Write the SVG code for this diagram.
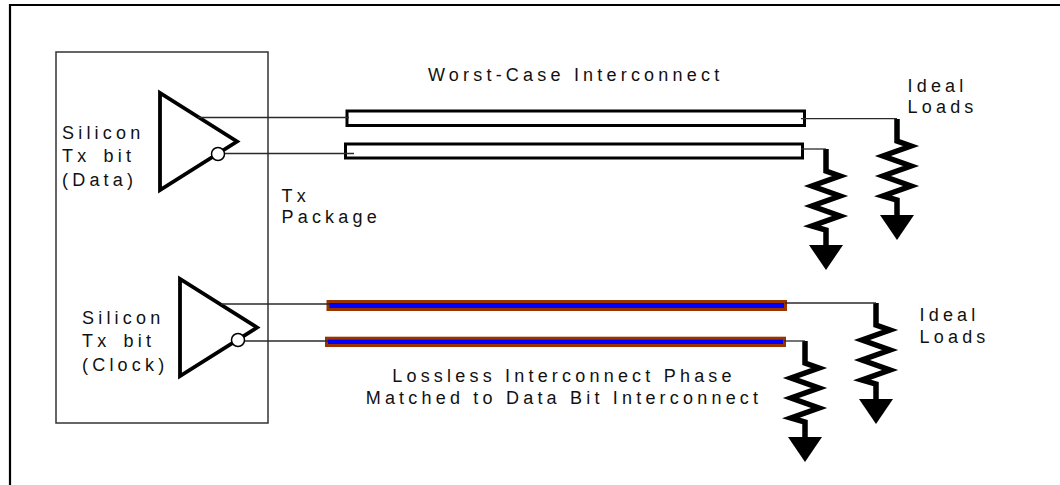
<svg xmlns="http://www.w3.org/2000/svg" width="1060" height="485" viewBox="0 0 1060 485">
<style>
  .lbl { font-family: "Liberation Sans", Arial, sans-serif; font-size: 18px; letter-spacing: 4.2px; fill: #111; }
  .wire { fill: none; stroke: #2a2a2a; stroke-width: 1.3; }
  .frame { fill: none; stroke: #000; stroke-width: 2.2; }
  .pkg { fill: none; stroke: #333; stroke-width: 1.5; }
  .drv { fill: #fff; stroke: #000; stroke-width: 3.8; stroke-linejoin: miter; }
  .bub { fill: #fff; stroke: #000; stroke-width: 1.5; }
  .tl { fill: #fff; stroke: #000; stroke-width: 3; }
  .tlc { fill: #0000ff; stroke: #993300; stroke-width: 3; }
  .res { fill: none; stroke: #000; stroke-width: 5.5; stroke-linejoin: miter; stroke-miterlimit: 10; }
  .gnd { fill: #000; stroke: none; }
</style>
<defs>
  <g id="load">
    <path class="res" d="M0,0 V22 L14,27 L-14,37 L14,47 L-14,57 L14,67 L-14,77 L0,81 V97"/>
    <path class="gnd" d="M-17,96 H17 L0,121 Z"/>
  </g>
</defs>
<rect x="0" y="0" width="1060" height="485" fill="#fff"/>
<path class="frame" d="M10,490 V5 H1065"/>

<g id="tx-package">
  <rect class="pkg" x="56" y="52" width="212" height="371"/>
  <text class="lbl" x="281.5" y="201.5">Tx</text>
  <text class="lbl" x="281.5" y="223">Package</text>
</g>

<g id="driver-data">
  <path class="drv" d="M160,93 V190 L237,141.5 Z"/>
  <circle class="bub" cx="218" cy="154" r="6.5"/>
  <text class="lbl" x="62" y="139">Silicon</text>
  <text class="lbl" x="62" y="162" word-spacing="4">Tx bit</text>
  <text class="lbl" x="62" y="185.5">(Data)</text>
</g>

<g id="driver-clock">
  <path class="drv" d="M180,279 V376 L257,327.5 Z"/>
  <circle class="bub" cx="238" cy="340" r="6.5"/>
  <text class="lbl" x="82" y="324">Silicon</text>
  <text class="lbl" x="82" y="347" word-spacing="4">Tx bit</text>
  <text class="lbl" x="82" y="370.5">(Clock)</text>
</g>

<g id="worst-case-interconnect">
  <rect class="tl" x="347" y="111" width="457.5" height="14.5"/>
  <rect class="tl" x="345.5" y="144" width="457" height="14"/>
  <text class="lbl" x="428" y="81">Worst-Case Interconnect</text>
</g>

<g id="lossless-interconnect">
  <rect class="tlc" x="328" y="301.5" width="457.5" height="8"/>
  <rect class="tlc" x="326.5" y="338.2" width="458" height="7.3"/>
  <text class="lbl" x="564" y="382" text-anchor="middle">Lossless Interconnect Phase</text>
  <text class="lbl" x="564" y="404" text-anchor="middle">Matched to Data Bit Interconnect</text>
</g>

<g id="load-data-p"><use href="#load" x="897" y="119"/></g>
<g id="load-data-n"><use href="#load" x="826" y="149"/></g>
<g id="load-clock-p"><use href="#load" x="876" y="303"/></g>
<g id="load-clock-n"><use href="#load" x="805" y="341"/></g>

<g id="ideal-loads-labels">
  <text class="lbl" x="907.5" y="92">Ideal</text>
  <text class="lbl" x="907.5" y="113">Loads</text>
  <text class="lbl" x="919.5" y="321">Ideal</text>
  <text class="lbl" x="919.5" y="343">Loads</text>
</g>

<g id="connectors">
  <path class="wire" d="M198,117.5 H349"/>
  <path class="wire" d="M225,153.5 H354"/>
  <path class="wire" d="M801,118.7 H897"/>
  <path class="wire" d="M801,149 H826"/>
  <path class="wire" d="M221,304 H330"/>
  <path class="wire" d="M245,341 H328"/>
  <path class="wire" d="M785,303 H876"/>
  <path class="wire" d="M784,341 H805"/>
</g>
</svg>
